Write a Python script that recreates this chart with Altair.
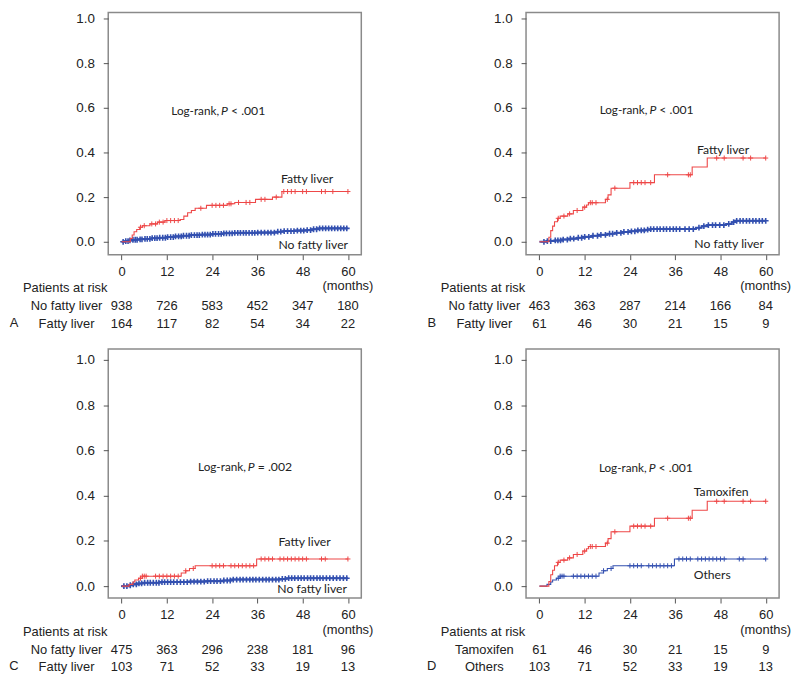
import altair as alt
import pandas as pd

RED = "#ee4848"
BLUE = "#3350b0"
TXT = "#222222"

X_TICKS = [0, 12, 24, 36, 48, 60]
Y_TICKS = [0.0, 0.2, 0.4, 0.6, 0.8, 1.0]
RISK_TIMES = [0, 12, 24, 36, 48, 60]

# ---- Panel A ----
a_fat_t = [0, 2.3, 2.8, 3.3, 4.0, 4.8, 5.5, 7.5, 9.5, 11.5, 15.5, 16.5, 17.5, 18.5, 19.5, 22.5, 28, 30, 35.5, 40, 42.5, 60]
a_fat_v = [0, 0.015, 0.03, 0.045, 0.055, 0.065, 0.072, 0.08, 0.088, 0.095, 0.1, 0.115, 0.13, 0.14, 0.15, 0.163, 0.17, 0.176, 0.19, 0.2, 0.225, 0.225]
a_fat_c = [5, 6, 8, 9, 10, 11, 12, 13, 14, 15, 21, 24, 25, 26, 27, 28.5, 29, 31, 33, 34, 37, 38, 41, 43, 44, 45, 46, 48, 49, 53, 54, 56, 60]
a_no_t = [0, 1, 2, 3, 4.5, 6, 8, 10, 12, 14, 16, 18, 21, 24, 27, 30, 36, 41, 43, 46, 49, 50.5, 52, 60]
a_no_v = [0, 0.003, 0.006, 0.009, 0.011, 0.013, 0.016, 0.018, 0.021, 0.024, 0.027, 0.03, 0.032, 0.035, 0.038, 0.04, 0.041, 0.045, 0.048, 0.05, 0.052, 0.056, 0.06, 0.06]
a_no_c = [0.4, 1.1, 1.7, 2.2, 3.0, 3.6, 4.1, 4.9, 5.4, 6.2, 6.8, 7.5, 8.1, 8.8, 9.4, 10.1, 10.9, 11.6, 12.2, 13.0, 13.7, 14.3, 15.1, 15.8, 16.4, 17.2, 17.9, 18.5, 19.3, 20.0, 20.6, 21.4, 22.1, 22.8, 23.5, 24.2, 24.9, 25.7, 26.4, 27.1, 27.8, 28.6, 29.3, 30.0, 30.8, 31.5, 32.3, 33.0, 33.8, 34.6, 35.3, 36.1, 37.0, 37.9, 38.8, 39.6, 40.5, 41.4, 42.2, 43.1, 44.0, 44.9, 45.7, 46.6, 47.5, 48.3, 49.2, 50.1, 50.9, 51.7, 52.5, 53.3, 54.1, 54.9, 55.7, 56.5, 57.3, 58.1, 58.9, 59.7]
a_risk_top = [938, 726, 583, 452, 347, 180]
a_risk_bot = [164, 117, 82, 54, 34, 22]

# ---- Panel B (and D red) ----
b_fat_t = [0, 2.5, 3.0, 3.5, 4.0, 4.8, 5.5, 7.5, 9.0, 11.5, 12.5, 13.0, 17.5, 18.2, 19.0, 24.0, 30.5, 40.5, 44.5, 60]
b_fat_v = [0, 0.02, 0.05, 0.07, 0.09, 0.105, 0.115, 0.125, 0.14, 0.155, 0.165, 0.175, 0.19, 0.21, 0.24, 0.265, 0.3, 0.335, 0.375, 0.375]
b_fat_c = [5, 6.5, 8, 10, 12, 13.5, 14, 15, 18, 20, 25, 26, 27, 28, 29.5, 34, 39.5, 40, 47, 49, 54, 56, 60]
b_no_t = [0, 2, 4, 6, 8, 10, 12, 14, 16, 18, 20, 22, 24, 26, 28, 29.5, 41.5, 43, 44.5, 49.5, 51, 52, 60]
b_no_v = [0, 0.003, 0.006, 0.01, 0.014, 0.018, 0.022, 0.027, 0.031, 0.036, 0.04, 0.044, 0.047, 0.051, 0.054, 0.057, 0.063, 0.07, 0.075, 0.08, 0.088, 0.094, 0.094]
b_no_c = [1.2, 2.1, 3.0, 4.2, 4.9, 5.6, 6.3, 7.4, 8.2, 9.1, 10.3, 11.2, 12.0, 13.1, 14.2, 15.4, 16.3, 17.5, 18.6, 19.4, 20.5, 21.6, 22.4, 23.5, 24.4, 25.3, 26.1, 27.0, 27.8, 28.7, 29.5, 30.3, 31.2, 32.0, 32.9, 33.7, 34.6, 35.5, 36.3, 37.2, 38.6, 39.7, 40.8, 42.3, 43.6, 44.8, 45.9, 46.7, 47.8, 48.9, 50.2, 51.5, 52.3, 53.2, 54.0, 54.9, 55.7, 56.6, 57.4, 58.3, 59.1, 60.0]
b_risk_top = [463, 363, 287, 214, 166, 84]
b_risk_bot = [61, 46, 30, 21, 15, 9]

# ---- Panel C (C red = D blue) ----
c_fat_t = [0, 2.0, 3.0, 3.5, 4.5, 5.5, 15.8, 17.0, 18.0, 19.5, 35.8, 60]
c_fat_v = [0, 0.008, 0.018, 0.027, 0.035, 0.044, 0.058, 0.068, 0.078, 0.09, 0.12, 0.12]
c_fat_c = [5, 5.5, 6, 6.5, 9, 10, 11, 12, 13, 14, 15, 17, 19, 24, 25, 26, 27, 29, 30, 31, 32, 33, 34, 35, 37, 38, 39, 40, 42, 43, 44, 45, 46, 47, 48, 49, 53, 54, 60]
c_no_t = [0, 2, 3, 4, 5.5, 10, 18, 22, 27, 29, 42, 43.5, 60]
c_no_v = [0, 0.004, 0.008, 0.012, 0.015, 0.018, 0.02, 0.022, 0.025, 0.029, 0.032, 0.035, 0.035]
c_no_c = [0.6, 1.4, 2.3, 3.1, 3.9, 4.6, 5.3, 6.1, 6.9, 7.6, 8.4, 9.2, 9.9, 10.7, 11.4, 12.2, 13.0, 13.8, 14.7, 15.6, 16.5, 17.4, 18.3, 19.2, 20.1, 21.0, 21.9, 22.8, 23.6, 24.5, 25.3, 26.2, 27.1, 28.0, 28.8, 29.6, 30.5, 31.4, 32.2, 33.1, 34.0, 34.8, 35.6, 36.5, 37.4, 38.3, 39.1, 40.0, 40.9, 41.7, 42.6, 43.4, 44.3, 45.1, 45.9, 46.8, 47.6, 48.4, 49.3, 50.1, 50.9, 51.8, 52.6, 53.4, 54.3, 55.2, 56.1, 57.0, 57.9, 58.8, 59.7]
c_risk_top = [475, 363, 296, 238, 181, 96]
c_risk_bot = [103, 71, 52, 33, 19, 13]

d_risk_top = [61, 46, 30, 21, 15, 9]
d_risk_bot = [103, 71, 52, 33, 19, 13]

W = 255
SANS = "Liberation Sans"
HUM = "Lato"
XS = alt.Scale(domain=[-3.55, 63.55], nice=False, zero=False)
X_AXIS = alt.Axis(values=X_TICKS, title=None, domain=False, grid=False, tickSize=5, labelPadding=6,
                  labelFont=SANS, labelFontSize=13, labelColor=TXT, tickColor="#555", labelFlush=False)
Y_AXIS = alt.Axis(values=Y_TICKS, format=".1f", title=None, domain=False, grid=False, tickSize=5,
                  labelPadding=9, labelFont=SANS, labelFontSize=13.5, labelColor=TXT, tickColor="#555",
                  labelFlush=False)

THIN = {"sw": 1.1, "size": 26, "msw": 1.0}
THICK = {"sw": 2.0, "size": 34, "msw": 1.6}


def step_at(ts, vs, t):
    val = vs[0]
    for ti, vi in zip(ts, vs):
        if ti <= t:
            val = vi
    return val


def make_panel(letter, red, blue, blue_style, top_label, bot_label, top_counts, bot_counts, lr, sym,
               red_lab, blue_lab, H, ydom):
    YS = alt.Scale(domain=ydom, nice=False, zero=False)

    def X(f="t"):
        return alt.X(f + ":Q", scale=XS, axis=X_AXIS)

    def Y(f="v"):
        return alt.Y(f + ":Q", scale=YS, axis=Y_AXIS)

    def curve(ts, vs, cens, color, st):
        df = pd.DataFrame({"t": ts, "v": vs})
        line = alt.Chart(df).mark_line(interpolate="step-after", color=color, strokeWidth=st["sw"]).encode(
            x=X(), y=Y())
        cdf = pd.DataFrame({"t": cens, "v": [step_at(ts, vs, c) for c in cens]})
        pts = alt.Chart(cdf).mark_point(shape="M0,-1L0,1M-1,0L1,0", size=st["size"], filled=False,
                                        strokeWidth=st["msw"], color=color, opacity=1).encode(x=X(), y=Y())
        return [line, pts]

    def text_at(label, xv, yv, align="center", dx=0, italic=False, size=12.3):
        df = pd.DataFrame({"t": [xv], "v": [yv], "label": [label]})
        return alt.Chart(df).mark_text(font=HUM, fontSize=size, align=align, baseline="middle", dx=dx,
                                       color=TXT, fontStyle="italic" if italic else "normal").encode(
            x=X(), y=Y(), text="label:N")

    def pixel_text(label, px, py, align="center"):
        df = pd.DataFrame({"label": [label]})
        return alt.Chart(df).mark_text(font=SANS, fontSize=13, align=align, baseline="middle",
                                       color=TXT).encode(x=alt.value(px), y=alt.value(py), text="label:N")

    def risk_row(counts, py):
        df = pd.DataFrame({"t": RISK_TIMES, "n": counts})
        return alt.Chart(df).mark_text(font=SANS, fontSize=13, align="center", baseline="middle",
                                       color=TXT).encode(x=X(), y=alt.value(py), text="n:Q")

    def months_label(py):
        df = pd.DataFrame({"t": [60], "label": ["(months)"]})
        return alt.Chart(df).mark_text(font=SANS, fontSize=13, align="center", baseline="middle",
                                       color=TXT).encode(x=X(), y=alt.value(py), text="label:N")

    layers = []
    layers += curve(*blue, BLUE, blue_style)
    layers += curve(*red, RED, THIN)
    lx, ly = lr
    layers.append(text_at("Log-rank,", lx, ly, align="right", dx=-1, size=11.8))
    layers.append(text_at("P", lx, ly, align="left", dx=1, italic=True))
    layers.append(text_at(sym, lx, ly, align="left", dx=11))
    layers.append(text_at(red_lab[0], red_lab[1], red_lab[2]))
    layers.append(text_at(blue_lab[0], blue_lab[1], blue_lab[2]))
    layers.append(months_label(H + 32))
    layers.append(pixel_text("Patients at risk", -86, H + 34, align="left"))
    layers.append(pixel_text(top_label, -42, H + 52))
    layers.append(pixel_text(bot_label, -42, H + 70))
    layers.append(pixel_text(letter, -95, H + 69))
    layers.append(risk_row(top_counts, H + 52))
    layers.append(risk_row(bot_counts, H + 70))
    return alt.layer(*layers).properties(width=W, height=H)


TOP_H, TOP_DOM = 244, [-0.0578, 1.0267]
BOT_H, BOT_DOM = 251, [-0.0526, 1.048]

pA = make_panel("A", (a_fat_t, a_fat_v, a_fat_c), (a_no_t, a_no_v, a_no_c), THICK, "No fatty liver",
                "Fatty liver", a_risk_top, a_risk_bot, (26.1, 0.587), "< .001",
                ("Fatty liver", 49.2, 0.28), ("No fatty liver", 50.8, -0.013), TOP_H, TOP_DOM)
pB = make_panel("B", (b_fat_t, b_fat_v, b_fat_c), (b_no_t, b_no_v, b_no_c), THICK, "No fatty liver",
                "Fatty liver", b_risk_top, b_risk_bot, (28.9, 0.591), "< .001",
                ("Fatty liver", 48.7, 0.413), ("No fatty liver", 50.3, -0.01), TOP_H, TOP_DOM)
pC = make_panel("C", (c_fat_t, c_fat_v, c_fat_c), (c_no_t, c_no_v, c_no_c), THICK, "No fatty liver",
                "Fatty liver", c_risk_top, c_risk_bot, (33.2, 0.526), "= .002",
                ("Fatty liver", 48.5, 0.193), ("No fatty liver", 50.5, -0.013), BOT_H, BOT_DOM)
pD = make_panel("D", (b_fat_t, b_fat_v, b_fat_c), (c_fat_t, c_fat_v, c_fat_c), THIN, "Tamoxifen", "Others",
                d_risk_top, d_risk_bot, (28.7, 0.522), "< .001",
                ("Tamoxifen", 48.2, 0.417), ("Others", 45.8, 0.048), BOT_H, BOT_DOM)

chart = alt.concat(pA, pB, pC, pD, columns=2, spacing={"row": 95, "column": 166}, bounds="flush",
                   align="each").properties(
    padding={"left": 0, "top": 0, "right": 0, "bottom": 0}, background="white"
).configure_view(stroke="#8a8a8a", strokeWidth=1.5)

chart.save("out.html", embed_options={"renderer": "svg", "actions": False})
